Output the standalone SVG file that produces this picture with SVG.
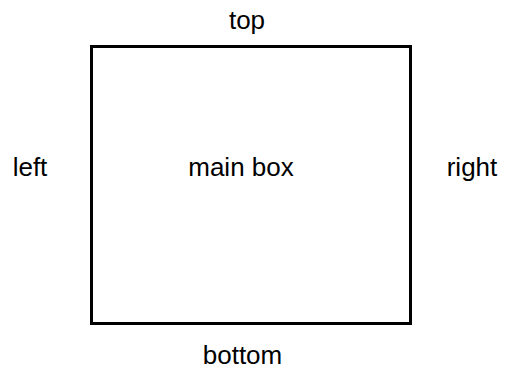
<svg xmlns="http://www.w3.org/2000/svg" width="505" height="370" viewBox="0 0 505 370">
<style>
text{font-family:"Liberation Sans",Arial,sans-serif;font-size:26px;fill:#000;text-anchor:middle}
.box{fill:#fff;stroke:#000;stroke-width:3}
</style>
<rect width="505" height="370" fill="#fff"/>
<g id="main">
<rect class="box" x="91.5" y="46.5" width="319" height="277"/>
<text x="241" y="176">main box</text>
</g>
<g id="top"><text x="247" y="29">top</text></g>
<g id="left"><text x="30" y="176">left</text></g>
<g id="right"><text x="472" y="176">right</text></g>
<g id="bottom"><text x="242.5" y="364">bottom</text></g>
<g id="connectors"/>
</svg>
